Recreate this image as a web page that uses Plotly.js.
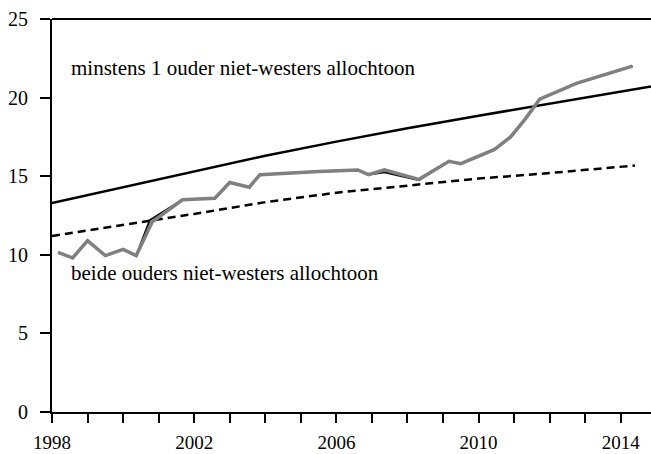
<!DOCTYPE html>
<html>
<head>
<meta charset="utf-8">
<script src="https://cdn.plot.ly/plotly-3.0.1.min.js"></script>
<style>html,body{margin:0;padding:0;background:#fff;}#chart{width:651px;height:454px;}</style>
</head>
<body>
<div id="chart"></div>
<script>
// Actual series (two nearly identical versions)
var actualYears = [1998.17, 1998.58, 1999.0, 1999.5, 2000.0, 2000.37, 2000.82, 2001.67, 2002.58, 2003.0, 2003.55, 2003.85, 2005.5, 2006.6, 2006.9, 2007.35, 2008.32, 2009.17, 2009.5, 2010.45, 2010.9, 2011.3, 2011.72, 2012.75, 2014.33];
var actualGray  = [10.15, 9.8, 10.9, 9.95, 10.35, 9.95, 12.1, 13.5, 13.6, 14.6, 14.3, 15.1, 15.3, 15.4, 15.1, 15.4, 14.8, 15.95, 15.8, 16.7, 17.5, 18.6, 19.9, 20.9, 22.0];
var blackYears  = [1998.17, 1998.58, 1999.0, 1999.5, 2000.0, 2000.37, 2000.75, 2001.67, 2002.58, 2003.0, 2003.55, 2003.85, 2005.5, 2006.6, 2006.9, 2007.35, 2008.32, 2009.17, 2009.5, 2010.45, 2010.9, 2011.3, 2011.72, 2012.75, 2014.33];
var actualBlack = [10.15, 9.8, 10.9, 9.95, 10.35, 9.95, 12.2, 13.5, 13.6, 14.6, 14.3, 15.1, 15.3, 15.4, 15.1, 15.25, 14.75, 15.95, 15.8, 16.7, 17.5, 18.6, 19.9, 20.9, 22.0];

// Trend: minstens 1 ouder niet-westers allochtoon
var trend1Years = [1998, 2000, 2002, 2004, 2006, 2008, 2010, 2012, 2014, 2014.85];
var trend1Vals  = [13.3, 14.3, 15.3, 16.3, 17.2, 18.05, 18.85, 19.6, 20.35, 20.7];

// Trend: beide ouders niet-westers allochtoon
var trend2Years = [1998, 2000, 2002, 2004, 2006, 2008, 2010, 2012, 2014.4];
var trend2Vals  = [11.2, 11.9, 12.6, 13.35, 13.95, 14.4, 14.85, 15.2, 15.68];

var tickYears = [];
for (var yr = 1998; yr <= 2014; yr++) tickYears.push(yr);
var labelYears = [1998, 2002, 2006, 2010, 2014];
var tickText = tickYears.map(function(v){ return labelYears.indexOf(v) >= 0 ? String(v) : ''; });

var label1 = 'minstens 1 ouder niet-westers allochtoon';
var label2 = 'beide ouders niet-westers allochtoon';

var serif = '"Liberation Serif", "Times New Roman", Times, serif';

var traces = [
  {x: trend1Years, y: trend1Vals, mode: 'lines', line: {color: '#000', width: 2.5}, hoverinfo: 'skip'},
  {x: trend2Years, y: trend2Vals, mode: 'lines', line: {color: '#000', width: 2.5, dash: '8px,5px'}, hoverinfo: 'skip'},
  {x: blackYears, y: actualBlack, mode: 'lines', line: {color: '#111', width: 2}, hoverinfo: 'skip'},
  {x: actualYears, y: actualGray, mode: 'lines', line: {color: '#808080', width: 3.5}, hoverinfo: 'skip'}
];

var layout = {
  width: 651, height: 454,
  margin: {l: 52, r: 0, t: 19, b: 42},
  paper_bgcolor: '#fff', plot_bgcolor: '#fff',
  showlegend: false,
  font: {family: serif, color: '#000', size: 20},
  xaxis: {
    range: [1998, 2014.85], showgrid: false, zeroline: false,
    showline: true, linecolor: '#000', linewidth: 2,
    ticks: 'outside', ticklen: 9, tickwidth: 2, tickcolor: '#000',
    tickvals: tickYears, ticktext: tickText,
    tickfont: {family: serif, size: 19, color: '#000'},
    ticklabelstandoff: 3
  },
  yaxis: {
    range: [0, 25], showgrid: false, zeroline: false,
    showline: true, linecolor: '#000', linewidth: 2,
    ticks: 'outside', ticklen: 10, tickwidth: 2, tickcolor: '#000',
    tickvals: [0, 5, 10, 15, 20, 25],
    tickfont: {family: serif, size: 20, color: '#000'},
    ticklabelstandoff: 8
  },
  shapes: [
    {type: 'line', xref: 'paper', yref: 'paper', x0: 0, x1: 1, y0: 1, y1: 1, line: {color: '#000', width: 2}}
  ],
  annotations: [
    {x: 1998.48, y: 21.9, xref: 'x', yref: 'y', text: label1, showarrow: false, xanchor: 'left', yanchor: 'middle', font: {family: serif, size: 21, color: '#000'}},
    {x: 1998.48, y: 8.85, xref: 'x', yref: 'y', text: label2, showarrow: false, xanchor: 'left', yanchor: 'middle', font: {family: serif, size: 21, color: '#000'}}
  ]
};

Plotly.newPlot('chart', traces, layout, {displayModeBar: false, staticPlot: true});
</script>
</body>
</html>
